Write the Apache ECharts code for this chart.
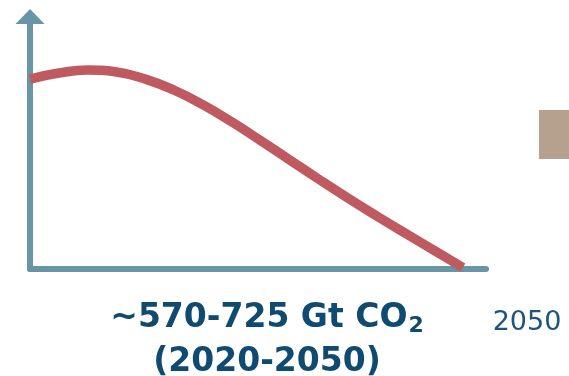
<!DOCTYPE html>
<html>
<head>
<meta charset="utf-8">
<script src="https://cdn.jsdelivr.net/npm/echarts@6/dist/echarts.min.js"></script>
<style>
  html, body { margin: 0; padding: 0; background: #ffffff; }
  #chart { width: 569px; height: 376px; }
</style>
</head>
<body>
<div id="chart"></div>
<script>
// Emissions pathway, Gt CO2 per year
const years = [2020, 2022, 2024, 2026, 2028, 2030, 2032, 2034, 2036, 2038, 2040, 2042, 2044, 2046, 2048, 2050];
const emissions = [37.6, 38.8, 39.4, 39.0, 37.6, 35.4, 32.5, 29.1, 25.4, 21.6, 17.8, 14.1, 10.55, 7.1, 3.7, 0.3];

const budgetLabel = '~570-725 Gt CO';
const budgetSub = '2';
const periodLabel = '(2020-2050)';
const endYearLabel = '2050';

const axisColor = '#6896a8';
const curveColor = '#bf5b60';
const textColor = '#0f4a70';

const chart = echarts.init(document.getElementById('chart'), null, { renderer: 'canvas' });

chart.setOption({
  animation: false,
  backgroundColor: '#ffffff',
  grid: { left: 30, right: 83, top: 16.5, bottom: 107, containLabel: false },
  xAxis: {
    type: 'value',
    min: 2020,
    max: 2051.6,
    axisLine: { show: true, onZero: false, lineStyle: { color: axisColor, width: 6 } },
    axisTick: { show: false },
    axisLabel: { show: false },
    splitLine: { show: false }
  },
  yAxis: {
    type: 'value',
    min: 0,
    max: 50,
    axisLine: {
      show: true,
      lineStyle: { color: axisColor, width: 6 },
      symbol: ['none', 'triangle'],
      symbolSize: [29, 15]
    },
    axisTick: { show: false },
    axisLabel: { show: false },
    splitLine: { show: false }
  },
  series: [{
    type: 'line',
    data: years.map((y, i) => [y, emissions[i]]),
    smooth: 0.5,
    showSymbol: false,
    lineStyle: { color: curveColor, width: 9.5, cap: 'butt' },
    z: 5
  }],
  graphic: [
    {
      type: 'rect',
      shape: { x: 539, y: 110, width: 30, height: 49 },
      style: { fill: '#b6a18f' }
    },
    {
      type: 'text',
      x: 267,
      y: 318,
      style: {
        text: '{a|' + budgetLabel + '}{s|' + budgetSub + '}',
        align: 'center',
        verticalAlign: 'middle',
        rich: {
          a: { fontFamily: 'DejaVu Sans', fontWeight: 'bold', fontSize: 33, fill: textColor, verticalAlign: 'middle' },
          s: { fontFamily: 'DejaVu Sans', fontWeight: 'bold', fontSize: 22, fill: textColor, verticalAlign: 'middle', padding: [17, 0, 0, 1] }
        }
      }
    },
    {
      type: 'text',
      x: 267,
      y: 362,
      style: {
        text: periodLabel,
        align: 'center',
        verticalAlign: 'middle',
        fontFamily: 'DejaVu Sans',
        fontWeight: 'bold',
        fontSize: 33,
        fill: textColor
      }
    },
    {
      type: 'text',
      x: 527,
      y: 323,
      style: {
        text: endYearLabel,
        align: 'center',
        verticalAlign: 'middle',
        fontFamily: 'DejaVu Sans',
        fontSize: 27,
        fill: '#1d5580'
      }
    }
  ]
});
</script>
</body>
</html>
